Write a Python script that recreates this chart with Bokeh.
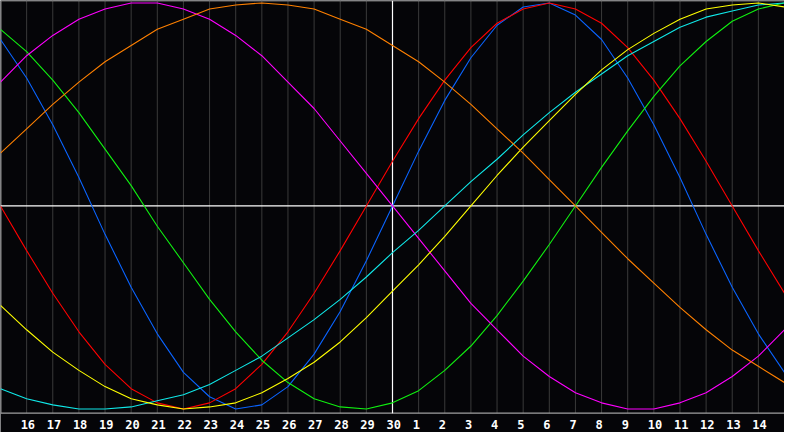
from bokeh.plotting import figure
from bokeh.models import Range1d
from bokeh.core.properties import value
from bokeh.embed import file_html
from bokeh.resources import INLINE

# day slots across the chart (0 = left edge, 15 = today, 30 = right edge)
slots = list(range(31))
day_labels = ["16", "17", "18", "19", "20", "21", "22", "23", "24", "25", "26", "27", "28", "29", "30",
              "1", "2", "3", "4", "5", "6", "7", "8", "9", "10", "11", "12", "13", "14"]

# values, in percent (-100 .. 100)
physical = [82, 63, 40, 14, -14, -40, -63, -82, -94, -100, -98, -89, -73, -52, -27, 0,
            27, 52, 73, 89, 98, 100, 94, 82, 63, 40, 14, -14, -40, -63, -82]
emotional = [0, -22, -43, -62, -78, -90, -97, -100, -97, -90, -78, -62, -43, -22, 0, 22,
             43, 62, 78, 90, 97, 100, 97, 90, 78, 62, 43, 22, 0, -22, -43]
intellectual = [87, 76, 62, 46, 28, 10, -10, -28, -46, -62, -76, -87, -95, -99, -100, -97,
                -91, -81, -69, -54, -37, -19, 0, 19, 37, 54, 69, 81, 91, 97, 100]
intuitive = [61, 74, 84, 92, 97, 100, 100, 97, 92, 84, 74, 61, 48, 32, 16, 0,
             -16, -32, -48, -61, -74, -84, -92, -97, -100, -100, -97, -92, -84, -74, -61]
aesthetic = [-49, -61, -72, -81, -89, -95, -98, -100, -99, -97, -92, -85, -77, -67, -55, -42,
             -29, -15, 0, 15, 29, 42, 55, 67, 77, 85, 92, 97, 99, 100, 98]
awareness = [26, 38, 50, 61, 71, 79, 87, 92, 97, 99, 100, 99, 97, 92, 87, 79,
             71, 61, 50, 38, 26, 13, 0, -13, -26, -38, -50, -61, -71, -79, -87]
spiritual = [-90, -95, -98, -100, -100, -99, -96, -93, -88, -81, -74, -65, -56, -46, -35, -23,
             -12, 0, 12, 23, 35, 46, 56, 65, 74, 81, 88, 93, 96, 99, 100]

BG = "#050508"
AXIS_V = -102.1   # bottom axis line
TOP_V = 101.2
LABEL_V = -107.9

p = figure(width=784, height=432, x_range=Range1d(0, 30), y_range=Range1d(-111.6, TOP_V),
           output_backend="svg", toolbar_location=None, min_border=0)
p.axis.visible = False
p.grid.visible = False
p.outline_line_color = None
p.background_fill_color = BG
p.border_fill_color = BG

# vertical day grid
grid_x = slots[1:30]
p.segment(x0=grid_x, y0=[AXIS_V] * len(grid_x), x1=grid_x, y1=[TOP_V] * len(grid_x),
          line_color="#3a3a3a", line_width=1)

# frame lines
p.segment(x0=[0.02], y0=[AXIS_V], x1=[0.02], y1=[TOP_V], line_color="#8c8c8c", line_width=1)
p.segment(x0=[0], y0=[TOP_V - 0.2], x1=[30], y1=[TOP_V - 0.2], line_color="#8c8c8c", line_width=1)
p.segment(x0=[0], y0=[AXIS_V], x1=[30], y1=[AXIS_V], line_color="#a0a0a0", line_width=1.2)

# zero line and today marker
p.segment(x0=[0], y0=[0], x1=[30], y1=[0], line_color="white", line_width=1.2)
p.segment(x0=[15], y0=[AXIS_V], x1=[15], y1=[TOP_V], line_color="white", line_width=1.2)

# cycles
curves = [
    (physical, "#0a64ff"),
    (emotional, "#ff0000"),
    (intellectual, "#10f010"),
    (intuitive, "#ff00ff"),
    (spiritual, "#10e8e8"),
    (aesthetic, "#ffff00"),
    (awareness, "#ff8000"),
]
for vals, col in curves:
    p.line(slots, vals, line_color=col, line_width=1.1)

# day labels
p.text(x=grid_x, y=[LABEL_V] * len(grid_x), text=day_labels, x_offset=-6,
       text_align="left", text_baseline="middle", text_color="white",
       text_font=value("DejaVu Sans Mono"), text_font_style="bold", text_font_size="12px")

open("out.html", "w").write(file_html(p, INLINE))
